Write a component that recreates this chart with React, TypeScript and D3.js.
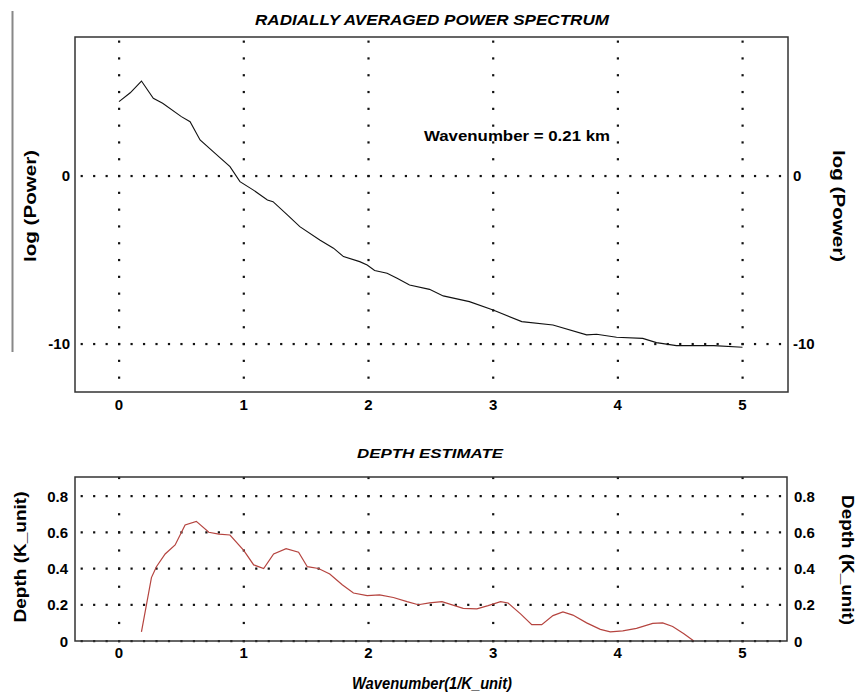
import React from "react";
import * as d3 from "d3";

const powerX = [0, 0.09, 0.18, 0.275, 0.35, 0.5, 0.57, 0.65, 0.755, 0.89, 0.97, 1.075, 1.19, 1.235, 1.35, 1.45, 1.61, 1.72, 1.8, 1.93, 1.99, 2.05, 2.15, 2.23, 2.33, 2.49, 2.6, 2.81, 3.0, 3.23, 3.48, 3.75, 3.83, 3.99, 4.2, 4.31, 4.47, 4.77, 5.0];
const powerY = [4.42, 4.95, 5.65, 4.62, 4.33, 3.53, 3.23, 2.14, 1.45, 0.55, -0.34, -0.83, -1.43, -1.53, -2.32, -3.02, -3.81, -4.3, -4.8, -5.1, -5.3, -5.63, -5.79, -6.09, -6.49, -6.75, -7.14, -7.48, -7.98, -8.67, -8.87, -9.46, -9.42, -9.6, -9.67, -9.92, -10.1, -10.1, -10.2];

const depthX = [0.18, 0.26, 0.3, 0.37, 0.45, 0.53, 0.62, 0.72, 0.8, 0.89, 1.0, 1.08, 1.16, 1.24, 1.34, 1.44, 1.51, 1.6, 1.69, 1.79, 1.88, 1.99, 2.09, 2.2, 2.31, 2.4, 2.49, 2.59, 2.76, 2.87, 2.96, 3.06, 3.12, 3.22, 3.31, 3.39, 3.48, 3.56, 3.64, 3.75, 3.86, 3.94, 4.04, 4.15, 4.28, 4.36, 4.44, 4.53, 4.61];
const depthY = [0.05, 0.35, 0.41, 0.48, 0.53, 0.64, 0.66, 0.6, 0.59, 0.585, 0.5, 0.42, 0.4, 0.48, 0.51, 0.49, 0.41, 0.4, 0.37, 0.31, 0.265, 0.25, 0.254, 0.24, 0.217, 0.2, 0.21, 0.217, 0.18, 0.177, 0.195, 0.217, 0.21, 0.15, 0.09, 0.09, 0.14, 0.16, 0.143, 0.1, 0.064, 0.05, 0.056, 0.07, 0.097, 0.1, 0.08, 0.04, 0.0];

const xTicks = [0, 1, 2, 3, 4, 5];
const powerTicks = [0, -10];
const depthTicks = [0, 0.2, 0.4, 0.6, 0.8];

const FONT = "'Liberation Sans', Arial, sans-serif";

export default function App() {
  const xTop = d3.scaleLinear().domain([-0.353, 5.365]).range([75, 788]);
  const yTop = d3.scaleLinear().domain([-12.86, 8.27]).range([392, 37]);
  const xBot = d3.scaleLinear().domain([-0.353, 5.365]).range([75, 788]);
  const yBot = d3.scaleLinear().domain([0, 0.905]).range([641, 477]);

  const topLine = d3.line<number>().x((_, i) => xTop(powerX[i])).y((d) => yTop(d));
  const botLine = d3.line<number>().x((_, i) => xBot(depthX[i])).y((d) => yBot(d));

  const hStepsX = d3.range(-3, 54).map((k) => k / 10);
  const vStepsTop = d3.range(-12, 9);
  const vStepsBot = d3.range(0, 10).map((k) => k / 10);

  const dot = (x: number, y: number, key: string) => (
    <rect key={key} x={x - 1} y={y - 1} width={2.2} height={2.2} fill="#111" />
  );

  return (
    <svg width={860} height={699} style={{ display: "block", position: "absolute", left: 0, top: 0, background: "#fff" }} fontFamily={FONT}>
      <rect x={0} y={0} width={860} height={699} fill="#fff" />
      <line x1={12.5} x2={12.5} y1={11} y2={352} stroke="#888" strokeWidth={2} />

      {/* ---------- TOP CHART ---------- */}
      <text x={432} y={25} textAnchor="middle" fontSize={14} fontWeight="bold" fontStyle="italic" textLength={354} lengthAdjust="spacingAndGlyphs">
        RADIALLY AVERAGED POWER SPECTRUM
      </text>
      {xTicks.map((t) => vStepsTop.map((v) => dot(xTop(t), yTop(v), `tv${t}_${v}`)))}
      {powerTicks.map((t) => hStepsX.map((h) => dot(xTop(h), yTop(t), `th${t}_${h}`)))}
      <path d={topLine(powerY) || ""} fill="none" stroke="#111" strokeWidth={1.1} />
      <rect x={75} y={37} width={713} height={355} fill="none" stroke="#333" strokeWidth={1.5} />
      {xTicks.map((t) => (
        <text key={`tx${t}`} x={xTop(t)} y={410} textAnchor="middle" fontSize={15} fontWeight="bold">{t}</text>
      ))}
      {powerTicks.map((t) => (
        <g key={`ty${t}`}>
          <text x={70} y={yTop(t) + 5.5} textAnchor="end" fontSize={15} fontWeight="bold">{t}</text>
          <text x={793} y={yTop(t) + 5.5} textAnchor="start" fontSize={15} fontWeight="bold">{t}</text>
        </g>
      ))}
      <text transform="translate(36,206) rotate(-90)" textAnchor="middle" fontSize={16} fontWeight="bold" textLength={112} lengthAdjust="spacingAndGlyphs">log (Power)</text>
      <text transform="translate(833,206) rotate(90)" textAnchor="middle" fontSize={16} fontWeight="bold" textLength={112} lengthAdjust="spacingAndGlyphs">log (Power)</text>
      <text x={517} y={141} textAnchor="middle" fontSize={14} fontWeight="bold" textLength={186} lengthAdjust="spacingAndGlyphs">Wavenumber = 0.21 km</text>

      {/* ---------- BOTTOM CHART ---------- */}
      <text x={430} y={458} textAnchor="middle" fontSize={13} fontWeight="bold" fontStyle="italic" textLength={146} lengthAdjust="spacingAndGlyphs">
        DEPTH ESTIMATE
      </text>
      {xTicks.map((t) => vStepsBot.map((v) => dot(xBot(t), yBot(v), `bv${t}_${v}`)))}
      {depthTicks.map((t) => hStepsX.map((h) => dot(xBot(h), yBot(t), `bh${t}_${h}`)))}
      <path d={botLine(depthY) || ""} fill="none" stroke="#b5443f" strokeWidth={1.2} />
      <rect x={75} y={477} width={712} height={164} fill="none" stroke="#333" strokeWidth={1.5} />
      {xTicks.map((t) => (
        <text key={`bx${t}`} x={xBot(t)} y={658} textAnchor="middle" fontSize={15} fontWeight="bold">{t}</text>
      ))}
      {depthTicks.map((t) => (
        <g key={`by${t}`}>
          <text x={68} y={yBot(t) + 5.5} textAnchor="end" fontSize={15} fontWeight="bold">{t === 0 ? "0" : t.toFixed(1)}</text>
          <text x={794} y={yBot(t) + 5.5} textAnchor="start" fontSize={15} fontWeight="bold">{t === 0 ? "0" : t.toFixed(1)}</text>
        </g>
      ))}
      <text transform="translate(26,557) rotate(-90)" textAnchor="middle" fontSize={16} fontWeight="bold" textLength={131} lengthAdjust="spacingAndGlyphs">Depth (K_unit)</text>
      <text transform="translate(842,560) rotate(90)" textAnchor="middle" fontSize={16} fontWeight="bold" textLength={130} lengthAdjust="spacingAndGlyphs">Depth (K_unit)</text>
      <text x={432} y={689} textAnchor="middle" fontSize={17} fontWeight="bold" fontStyle="italic" textLength={160} lengthAdjust="spacingAndGlyphs">Wavenumber(1/K_unit)</text>
    </svg>
  );
}
